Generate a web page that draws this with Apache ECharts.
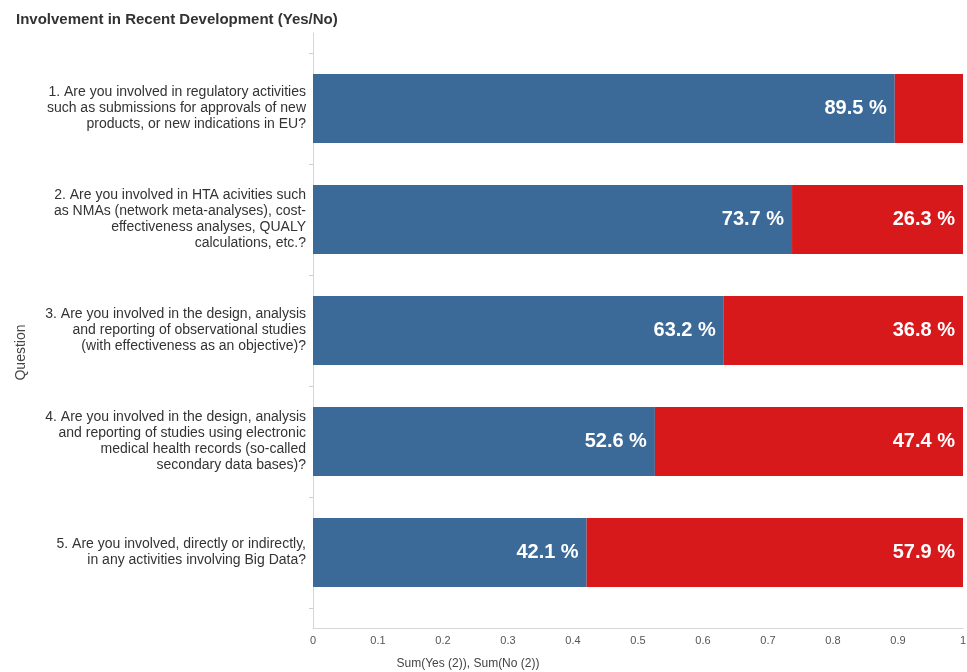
<!DOCTYPE html>
<html>
<head>
<meta charset="utf-8">
<script src="https://cdn.jsdelivr.net/npm/echarts@6/dist/echarts.min.js"></script>
<style>
  html, body { margin: 0; padding: 0; background: #fff; }
  #chart { width: 967px; height: 672px; }
</style>
</head>
<body>
<div id="chart"></div>
<script>
// questions, top to bottom
const questions = [
  '1. Are you involved in regulatory activities\nsuch as submissions for approvals of new\nproducts, or new indications in EU?',
  '2. Are you involved in HTA acivities such\nas NMAs (network meta-analyses), cost-\neffectiveness analyses, QUALY\ncalculations, etc.?',
  '3. Are you involved in the design, analysis\nand reporting of observational studies\n(with effectiveness as an objective)?',
  '4. Are you involved in the design, analysis\nand reporting of studies using electronic\nmedical health records (so-called\nsecondary data bases)?',
  '5. Are you involved, directly or indirectly,\nin any activities involving Big Data?'
];
const yesShare = [0.895, 0.737, 0.632, 0.526, 0.421];
const noShare = [0.105, 0.263, 0.368, 0.474, 0.579];
const xTicks = [0, 0.1, 0.2, 0.3, 0.4, 0.5, 0.6, 0.7, 0.8, 0.9, 1];

//--------------------------------- label helper ---------------------------------
const pct = p => (p.value * 100).toFixed(1) + ' %';

const barLabel = {
  show: true,
  position: 'insideRight',
  distance: 8,
  color: '#fff',
  fontFamily: 'Liberation Sans',
  fontWeight: 'bold',
  fontSize: 20,
  formatter: pct
};

const myChart = echarts.init(document.getElementById('chart'));

myChart.setOption({
  animation: false,
  textStyle: { fontFamily: 'Liberation Sans' },
  title: {
    text: 'Involvement in Recent Development (Yes/No)',
    left: 11,
    top: 7,
    textStyle: { fontSize: 15, fontWeight: 'bold', color: '#333' }
  },
  grid: [
    // frame: axis lines and value ticks
    { left: 313, right: 4, top: 33, bottom: 44, outerBoundsMode: 'none' },
    // bars
    { left: 313, right: 4, top: 53, bottom: 64, outerBoundsMode: 'none' }
  ],
  xAxis: [
    {
      gridIndex: 0,
      type: 'value',
      min: 0,
      max: 1,
      interval: 0.1,
      axisLine: { show: true, lineStyle: { color: '#d6d6d6' } },
      axisTick: { show: false },
      splitLine: { show: false },
      axisLabel: {
        margin: 7,
        fontSize: 11,
        color: '#555',
        formatter: v => xTicks.includes(+v.toFixed(1)) ? String(+v.toFixed(1)) : ''
      },
      name: 'Sum(Yes (2)), Sum(No (2))',
      nameLocation: 'middle',
      nameGap: 30,
      nameTextStyle: { fontSize: 12, color: '#444', padding: [0, 340, 0, 0] }
    },
    {
      gridIndex: 1,
      type: 'value',
      min: 0,
      max: 1,
      show: false
    }
  ],
  yAxis: [
    {
      gridIndex: 0,
      type: 'value',
      axisLine: { show: true, lineStyle: { color: '#d6d6d6' } },
      axisTick: { show: false },
      axisLabel: { show: false },
      splitLine: { show: false },
      name: 'Question',
      nameLocation: 'middle',
      nameGap: 285,
      nameRotate: 90,
      nameTextStyle: { fontSize: 14, color: '#444', padding: [0, 44, 0, 0] }
    },
    {
      gridIndex: 1,
      type: 'category',
      inverse: true,
      data: questions,
      axisLine: { show: false },
      axisTick: { show: true, length: 4, lineStyle: { color: '#cfcfcf' } },
      axisLabel: {
        margin: 7,
        fontSize: 14,
        lineHeight: 16,
        color: '#333',
        align: 'right'
      }
    }
  ],
  series: [
    {
      name: 'Yes',
      type: 'bar',
      stack: 'share',
      xAxisIndex: 1,
      yAxisIndex: 1,
      barWidth: '62%',
      itemStyle: { color: '#3b6a98' },
      label: barLabel,
      data: yesShare
    },
    {
      name: 'No',
      type: 'bar',
      stack: 'share',
      xAxisIndex: 1,
      yAxisIndex: 1,
      barWidth: '62%',
      itemStyle: { color: '#d7191c' },
      label: barLabel,
      // first red bar carries no label in the original
      data: noShare.map((v, i) => i === 0 ? { value: v, label: { show: false } } : v)
    }
  ]
});
</script>
</body>
</html>
